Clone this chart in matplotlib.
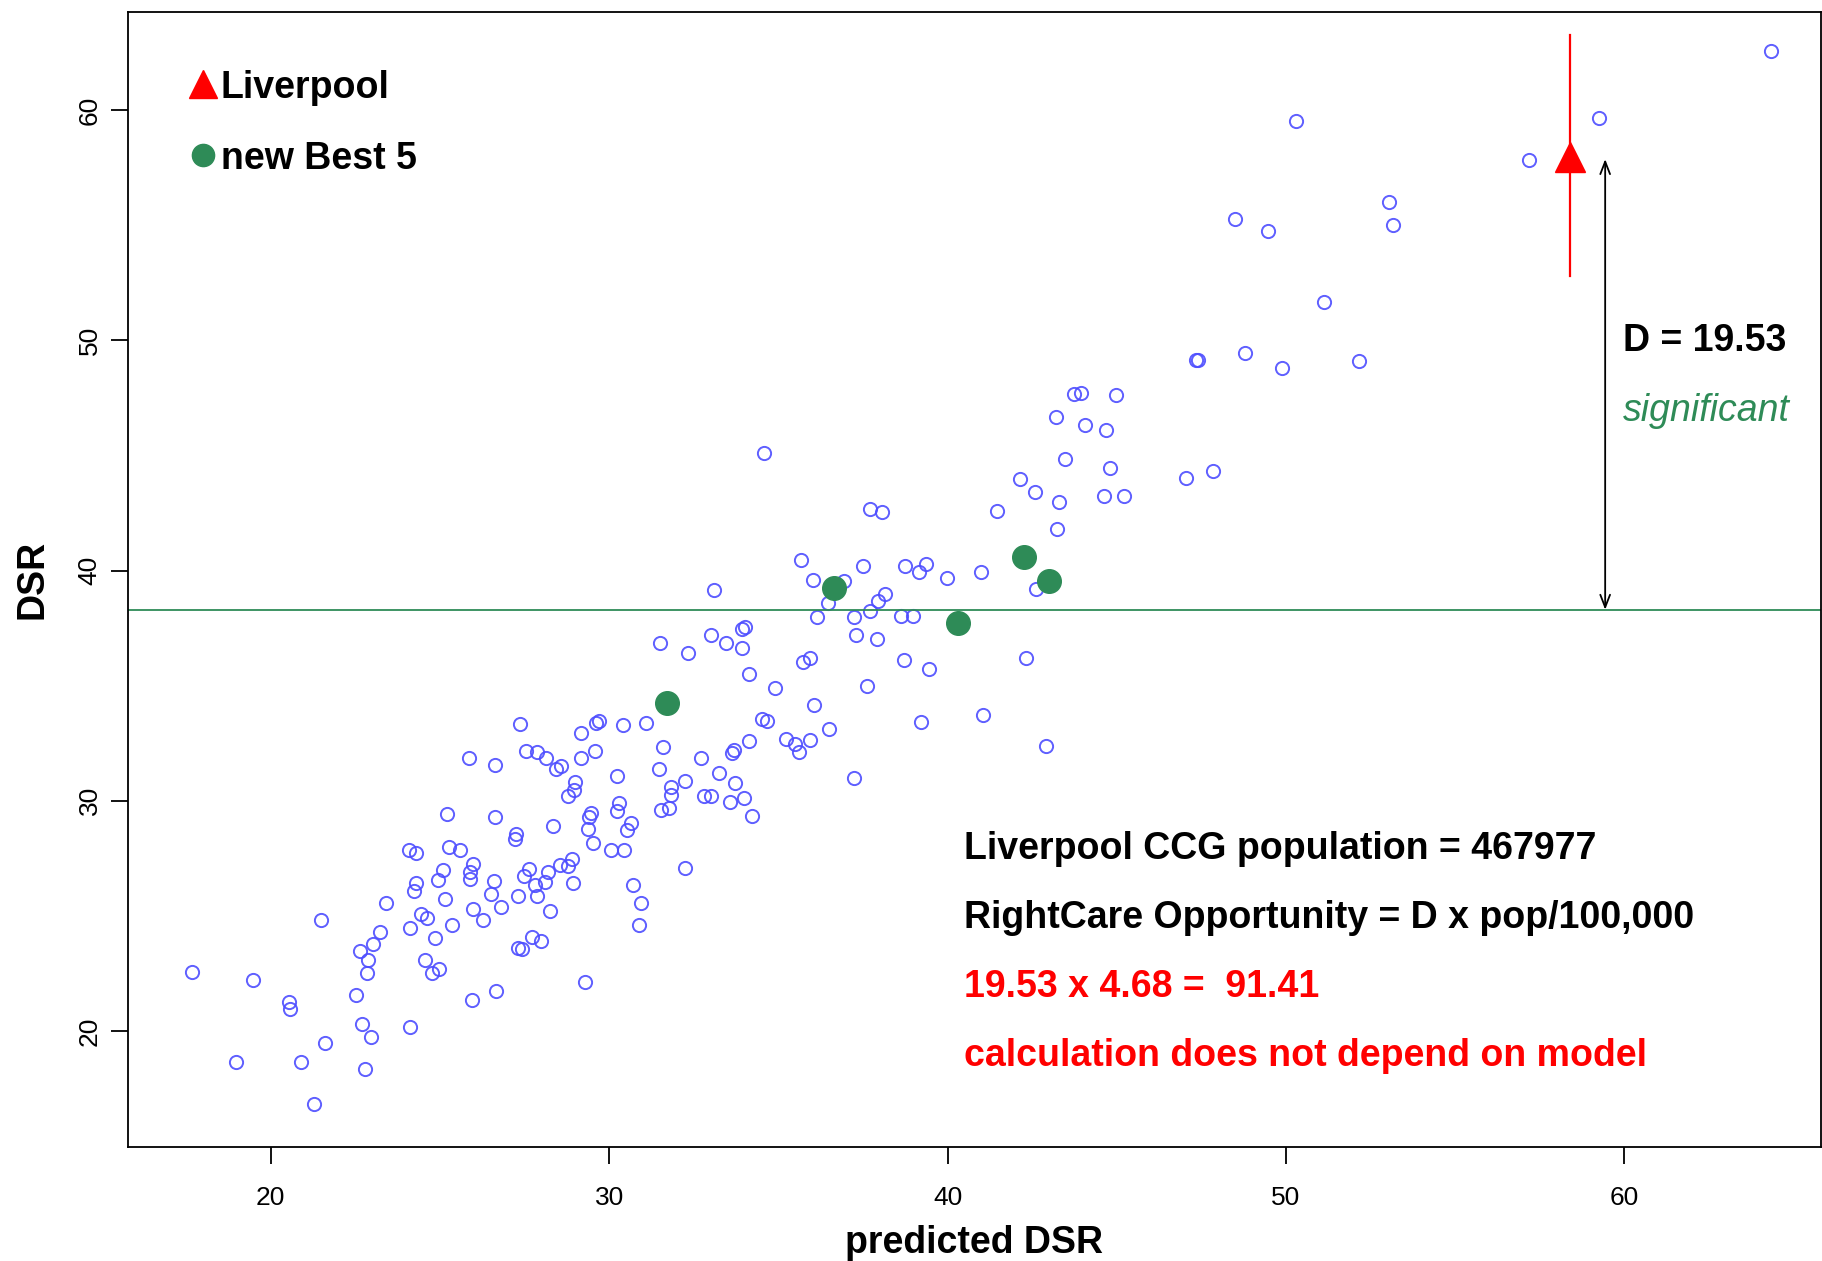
import numpy as np
import matplotlib.pyplot as plt

plt.rcParams['font.family'] = ['Liberation Sans', 'DejaVu Sans']

# all CCGs: predicted DSR vs observed DSR
pred = [17.67, 18.97, 19.49, 20.55, 20.58, 20.89, 21.27, 21.48, 21.61, 22.51,
        22.64, 22.71, 22.78, 22.85, 22.88, 22.95, 23.02, 23.23, 23.40, 24.08,
        24.12, 24.12, 24.22, 24.29, 24.29, 24.43, 24.56, 24.63, 24.77, 24.84,
        24.94, 24.98, 25.08, 25.15, 25.22, 25.28, 25.35, 25.59, 25.87, 25.90,
        25.90, 25.94, 25.97, 25.97, 26.28, 26.52, 26.59, 26.62, 26.62, 26.66,
        26.79, 27.21, 27.24, 27.31, 27.31, 27.38, 27.41, 27.48, 27.55, 27.62,
        27.72, 27.82, 27.86, 27.86, 27.99, 28.10, 28.13, 28.20, 28.24, 28.34,
        28.44, 28.58, 28.55, 28.79, 28.79, 28.89, 28.92, 28.96, 28.99, 29.16,
        29.16, 29.30, 29.37, 29.40, 29.47, 29.51, 29.57, 29.61, 29.71, 30.05,
        30.23, 30.23, 30.30, 30.40, 30.43, 30.54, 30.64, 30.71, 30.88, 30.95,
        31.08, 31.50, 31.46, 31.53, 31.60, 31.77, 31.84, 31.84, 32.25, 32.32,
        32.25, 32.70, 32.80, 33.01, 33.01, 33.11, 33.25, 33.45, 33.56, 33.62,
        33.69, 33.73, 33.93, 33.93, 34.00, 33.97, 34.14, 34.14, 34.21, 34.52,
        34.58, 34.65, 34.89, 35.24, 35.48, 35.61, 35.68, 35.72, 35.92, 35.92,
        36.03, 36.06, 36.13, 36.48, 36.51, 36.95, 37.23, 37.23, 37.30, 37.50,
        37.61, 37.71, 37.71, 37.91, 37.95, 38.05, 38.15, 38.63, 38.70, 38.74,
        38.98, 39.15, 39.22, 39.35, 39.46, 39.97, 41.00, 41.04, 41.45, 42.13,
        42.31, 42.58, 42.61, 42.92, 43.20, 43.23, 43.30, 43.47, 43.74, 43.95,
        44.06, 44.61, 44.68, 44.81, 44.98, 45.22, 47.04, 47.35, 47.40, 47.83,
        48.48, 48.79, 49.48, 49.89, 50.30, 51.13, 52.16, 53.05, 53.15, 57.17,
        59.26, 64.34]
dsr = [22.58, 18.64, 22.22, 21.26, 20.96, 18.64, 16.82, 24.80, 19.49, 21.57,
       23.48, 20.30, 18.33, 22.53, 23.08, 19.75, 23.79, 24.29, 25.56, 27.88,
       20.15, 24.49, 26.06, 27.73, 26.41, 25.10, 23.08, 24.90, 22.53, 24.04,
       26.57, 22.68, 26.97, 25.71, 29.44, 27.98, 24.60, 27.88, 31.87, 26.62,
       26.92, 21.36, 27.27, 25.30, 24.80, 25.96, 26.52, 29.29, 31.57, 21.72,
       25.40, 28.33, 28.54, 25.86, 23.59, 33.33, 23.54, 26.72, 32.17, 27.02,
       24.09, 26.36, 32.12, 25.86, 23.89, 26.46, 31.87, 26.92, 25.20, 28.89,
       31.36, 31.52, 27.22, 30.20, 27.17, 27.47, 26.41, 30.45, 30.81, 31.87,
       32.93, 22.12, 28.79, 29.29, 29.49, 28.18, 32.17, 33.38, 33.48, 27.88,
       31.06, 29.55, 29.90, 33.28, 27.88, 28.74, 29.04, 26.36, 24.60, 25.56,
       33.38, 36.87, 31.36, 29.60, 32.32, 29.70, 30.61, 30.25, 27.07, 36.41,
       30.86, 31.87, 30.20, 30.20, 37.22, 39.14, 31.21, 36.87, 29.95, 32.07,
       32.22, 30.76, 36.62, 37.47, 37.53, 30.10, 35.51, 32.58, 29.34, 33.54,
       45.10, 33.48, 34.90, 32.68, 32.47, 32.12, 40.45, 36.01, 32.63, 36.21,
       39.60, 34.14, 37.98, 38.59, 33.13, 39.55, 37.98, 31.01, 37.22, 40.20,
       35.00, 42.68, 38.23, 37.02, 38.69, 42.53, 38.99, 38.03, 36.11, 40.20,
       38.03, 39.95, 33.43, 40.30, 35.71, 39.70, 39.95, 33.74, 42.58, 43.99,
       36.21, 43.43, 39.19, 32.37, 46.67, 41.82, 42.98, 44.85, 47.68, 47.73,
       46.31, 43.23, 46.11, 44.44, 47.63, 43.23, 44.04, 49.14, 49.14, 44.34,
       55.30, 49.44, 54.75, 48.79, 59.55, 51.67, 49.09, 56.01, 55.00, 57.83,
       59.65, 62.58]

# new best 5 peers
best_pred = [31.70, 36.64, 40.31, 42.27, 42.99]
best_dsr = [34.25, 39.24, 37.73, 40.61, 39.55]

# Liverpool with its confidence interval
liv_pred = 58.40
liv_dsr = 57.98
liv_lo, liv_hi = 52.78, 63.28
best_level = 38.30
D = 19.53
pop = 467977
pop_k = 4.68
opportunity = 91.41

fig = plt.figure(figsize=(18.22, 12.61), dpi=100)
ax = fig.add_axes([0.0702, 0.0903, 0.9293, 0.9005])

ax.plot(pred, dsr, 'o', mfc='none', mec='#4d4dff', mew=1.4, ms=9.5, alpha=0.9)
ax.axhline(best_level, color='#2E8B57', lw=1.3)
ax.plot(best_pred, best_dsr, 'o', color='#2E8B57', ms=17)
ax.plot([liv_pred, liv_pred], [liv_lo, liv_hi], color='red', lw=1.6)
ax.plot(liv_pred, liv_dsr, '^', color='red', ms=22)

# arrow showing the gap D
ax.annotate('', xy=(59.43, liv_dsr - 0.1), xytext=(59.43, best_level),
            arrowprops=dict(arrowstyle='<->,head_length=0.9,head_width=0.35',
                            color='black', lw=1.3, shrinkA=0, shrinkB=0))
txt = dict(fontsize=27, va='center_baseline')
ax.text(59.95, 50.15, 'D = %.2f' % D, fontweight='bold', **txt)
ax.text(59.95, 47.12, 'significant', style='italic', color='#2E8B57', **txt)

# legend
ax.plot(18.01, 61.16, '^', color='red', ms=20)
ax.text(18.52, 61.16, 'Liverpool', fontweight='bold', **txt)
ax.plot(18.01, 58.08, 'o', color='#2E8B57', ms=16)
ax.text(18.52, 58.08, 'new Best 5', fontweight='bold', **txt)

# calculation text
ax.text(40.49, 28.08, 'Liverpool CCG population = %d' % pop,
        fontweight='bold', **txt)
ax.text(40.49, 25.10, 'RightCare Opportunity = D x pop/100,000',
        fontweight='bold', **txt)
ax.text(40.49, 22.07, '%.2f x %.2f =  %.2f' % (D, pop_k, opportunity),
        fontweight='bold', color='red', **txt)
ax.text(40.49, 19.09, 'calculation does not depend on model',
        fontweight='bold', color='red', **txt)

ax.set_xlim(15.78, 65.81)
ax.set_ylim(14.95, 64.29)
ax.set_xticks([20, 30, 40, 50, 60])
ax.set_yticks([20, 30, 40, 50, 60])
ax.tick_params(labelsize=19, length=12, width=1.3)
ax.tick_params(axis='x', pad=16)
ax.tick_params(axis='y', pad=7)
plt.setp(ax.get_yticklabels(), rotation=90, va='center')
for s in ax.spines.values():
    s.set_linewidth(1.3)
ax.set_xlabel('predicted DSR', fontsize=27, fontweight='bold')
ax.set_ylabel('DSR', fontsize=27, fontweight='bold')
ax.xaxis.set_label_coords(0.5, -0.069)
ax.yaxis.set_label_coords(-0.046, 0.5)

fig.savefig('out.png', dpi=100)
